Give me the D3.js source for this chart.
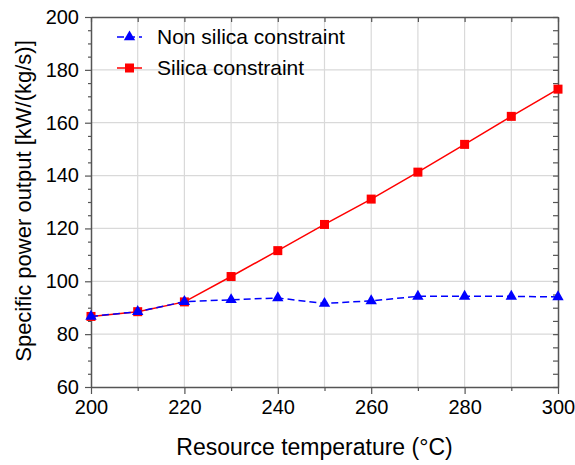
<!DOCTYPE html>
<html><head><meta charset="utf-8">
<script src="https://cdn.jsdelivr.net/npm/d3@7"></script>
<style>body{margin:0;background:#fff}svg{display:block}text{font-family:"Liberation Sans",Arial,sans-serif;fill:#000}</style>
</head><body>
<script>
const temperatures = [200,210,220,230,240,250,260,270,280,290,300];
const nonSilica = [86.7,88.5,92.3,93.0,93.7,91.6,92.6,94.3,94.3,94.3,94.1];
const silica = [86.7,88.5,92.2,101.8,111.6,121.5,131.1,141.3,151.8,162.4,172.7];
const xTicks = [200,220,240,260,280,300];
const yTicks = [60,80,100,120,140,160,180,200];
const seriesNames = ["Non silica constraint","Silica constraint"];

const W=575,H=465;
const m={l:91,r:17,t:17,b:78};
const svg=d3.select("body").append("svg").attr("width",W).attr("height",H);
const x=d3.scaleLinear().domain([200,300]).range([m.l,W-m.r]);
const y=d3.scaleLinear().domain([60,200]).range([H-m.b,m.t]);
const axisCol="#555";

const g=svg.append("g");
g.selectAll("line.vx").data(d3.range(210,300,10)).join("line")
 .attr("x1",d=>x(d)).attr("x2",d=>x(d)).attr("y1",y(60)).attr("y2",y(200))
 .attr("stroke","#d9d9d9").attr("stroke-width",1.2);
g.selectAll("line.hy").data(yTicks.slice(1,-1)).join("line")
 .attr("y1",d=>y(d)).attr("y2",d=>y(d)).attr("x1",x(200)).attr("x2",x(300))
 .attr("stroke","#d9d9d9").attr("stroke-width",1.2);

const minorX=d3.range(210,300,20);
const minorY=d3.range(60,201,5).filter(v=>v%20!==0);
function style(sel){sel.select(".domain").attr("stroke",axisCol).attr("stroke-width",1.5);sel.selectAll(".tick line").attr("stroke",axisCol).attr("stroke-width",1.2);}
const bx=svg.append("g").attr("transform",`translate(0,${y(60)})`)
 .call(d3.axisBottom(x).tickValues(xTicks).tickSize(7).tickSizeOuter(0).tickPadding(6));
style(bx); bx.selectAll("text").style("font-size","20px");
svg.append("g").attr("transform",`translate(0,${y(60)})`)
 .call(d3.axisBottom(x).tickValues(minorX).tickSize(4).tickSizeOuter(0).tickFormat(""))
 .call(s=>{s.select(".domain").remove();s.selectAll("line").attr("stroke",axisCol).attr("stroke-width",1.2);});
const ly=svg.append("g").attr("transform",`translate(${x(200)},0)`)
 .call(d3.axisLeft(y).tickValues(yTicks).tickSize(6).tickSizeOuter(0).tickPadding(6));
style(ly); ly.selectAll("text").style("font-size","20px");
svg.append("g").attr("transform",`translate(${x(200)},0)`)
 .call(d3.axisLeft(y).tickValues(minorY).tickSize(3).tickFormat(""))
 .call(s=>{s.select(".domain").remove();s.selectAll("line").attr("stroke",axisCol).attr("stroke-width",1.2);});
const tx=svg.append("g").attr("transform",`translate(0,${y(200)})`)
 .call(d3.axisTop(x).tickValues(d3.range(200,301,10)).tickSize(-5).tickSizeOuter(0).tickFormat(""));
style(tx);
const ry=svg.append("g").attr("transform",`translate(${x(300)},0)`)
 .call(d3.axisRight(y).tickValues(d3.range(60,201,5)).tickSize(-5).tickSizeOuter(0).tickFormat(""));
style(ry);

svg.append("text").attr("x",(x(200)+x(300))/2-10).attr("y",455).attr("text-anchor","middle")
 .style("font-size","23px").text("Resource temperature (°C)");
svg.append("text").attr("transform",`translate(31,${(y(60)+y(200))/2-1}) rotate(-90)`).attr("text-anchor","middle")
 .style("font-size","22px").text("Specific power output [kW/(kg/s)]");

const line=d3.line().x((d,i)=>x(temperatures[i])).y(d=>y(d));
svg.append("path").datum(silica).attr("d",line).attr("fill","none").attr("stroke","#ff0000").attr("stroke-width",1.5);
svg.append("g").selectAll("rect").data(silica).join("rect")
 .attr("x",(d,i)=>x(temperatures[i])-4.5).attr("y",d=>y(d)-4.5).attr("width",9).attr("height",9).attr("fill","#ff0000");
svg.append("path").datum(nonSilica).attr("d",line).attr("fill","none").attr("stroke","#0000ff").attr("stroke-width",1.5).attr("stroke-dasharray","7,4");
const tri=d3.symbol().type(d3.symbolTriangle).size(56);
svg.append("g").selectAll("path").data(nonSilica).join("path")
 .attr("transform",(d,i)=>`translate(${x(temperatures[i])},${y(d)})`).attr("d",tri).attr("fill","#0000ff");

const leg=svg.append("g");
const rows=[{n:seriesNames[0],c:"#0000ff",dash:"7,4",t:"tri",yy:37},{n:seriesNames[1],c:"#ff0000",dash:null,t:"sq",yy:68}];
rows.forEach(r=>{
  leg.append("line").attr("x1",117).attr("x2",142).attr("y1",r.yy).attr("y2",r.yy).attr("stroke",r.c).attr("stroke-width",1.5).attr("stroke-dasharray",r.dash);
  if(r.t==="tri") leg.append("path").attr("transform",`translate(129.5,${r.yy})`).attr("d",tri).attr("fill",r.c);
  else leg.append("rect").attr("x",125).attr("y",r.yy-4.5).attr("width",9).attr("height",9).attr("fill",r.c);
  leg.append("text").attr("x",157).attr("y",r.yy+7).style("font-size","21px").text(r.n);
});
</script>
</body></html>
